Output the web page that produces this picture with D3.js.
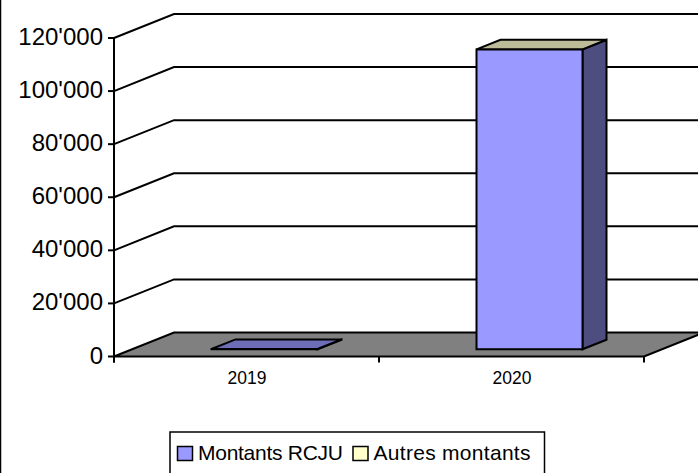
<!DOCTYPE html>
<html>
<head>
<meta charset="utf-8">
<script src="https://cdn.jsdelivr.net/npm/d3@7"></script>
<style>
    html, body { margin: 0; padding: 0; background: #fff; }
    svg { display: block; }
    text { font-family: "Liberation Sans", Arial, sans-serif; fill: #000; }
</style>
</head>
<body>
<div id="chart"></div>
<script>
// Chart values
const categories = ["2019", "2020"];
const montantsRCJU = [100, 113000];
const yTicks = [0, 20000, 40000, 60000, 80000, 100000, 120000];
const legendLabels = ["Montants RCJU", "Autres montants"];
const legendColors = ["#9999ff", "#ffffcc"];

const width = 698, height = 473;

const svg = d3.select("#chart")
    .append("svg")
    .attr("width", width)
    .attr("height", height);

// Left edge of the chart frame
svg.append("line")
    .attr("x1", 0.5).attr("x2", 0.5)
    .attr("y1", 0).attr("y2", height)
    .attr("stroke", "#000")
    .attr("stroke-width", 1.5);

// Scales: x along the front edge, y for values, depth for the oblique 3D offset
const x = d3.scaleBand()
    .domain(categories)
    .range([114, 644])
    .paddingInner(0.6)
    .paddingOuter(0.3);

const y = d3.scaleLinear()
    .domain([0, 120000])
    .range([356.5, 38]);

const depthX = d3.scaleLinear().domain([0, 1]).range([0, 60]);
const depthY = d3.scaleLinear().domain([0, 1]).range([0, -24]);

// Project a point (front x, value, depth 0-1) to the screen
const pt = (px, value, z) => [px + depthX(z), y(value) + depthY(z)];
const poly = pts => "M" + pts.map(p => p.join(",")).join("L") + "Z";

function addPath(d, fill) {
    return svg.append("path")
        .attr("d", d)
        .attr("fill", fill)
        .attr("stroke", "#000")
        .attr("stroke-width", 2)
        .attr("stroke-linejoin", "miter");
}

const x0 = x.range()[0], x1 = x.range()[1];

// Gridlines on side wall and back wall
yTicks.filter(d => d > 0).forEach(d => {
    addPath(d3.line()([pt(x0, d, 0), pt(x0, d, 1), pt(x1, d, 1)]), "none");
});

// Floor
addPath(poly([pt(x0, 0, 0), pt(x0, 0, 1), pt(x1, 0, 1), pt(x1, 0, 0)]), "#808080");

// Y axis with ticks and labels
svg.append("line")
    .attr("x1", x0).attr("x2", x0)
    .attr("y1", y(0) + 6).attr("y2", y(120000))
    .attr("stroke", "#000").attr("stroke-width", 2);

yTicks.forEach(d => {
    svg.append("line")
        .attr("x1", x0 - 6).attr("x2", x0)
        .attr("y1", y(d)).attr("y2", y(d))
        .attr("stroke", "#000").attr("stroke-width", 2);
    svg.append("text")
        .attr("x", x0 - 11)
        .attr("y", y(d) + 7)
        .attr("text-anchor", "end")
        .attr("font-size", 24)
        .text(d === 0 ? "0" : d3.format(",")(d).replace(",", "'"));
});

// X axis ticks and labels
[x0, (x0 + x1) / 2, x1].forEach(d => {
    svg.append("line")
        .attr("x1", d).attr("x2", d)
        .attr("y1", y(0)).attr("y2", y(0) + 6)
        .attr("stroke", "#000").attr("stroke-width", 2);
});
categories.forEach(c => {
    svg.append("text")
        .attr("x", x(c) + x.bandwidth() / 2 + 0.5)
        .attr("y", 383.5)
        .attr("text-anchor", "middle")
        .attr("font-size", 17.5)
        .text(c);
});

// Bars: top, side, front
const zFront = 0.3, zBack = 0.7;
categories.forEach((c, i) => {
    const l = x(c), r = x(c) + x.bandwidth(), v = montantsRCJU[i];
    addPath(poly([pt(r, 0, zFront), pt(r, 0, zBack), pt(r, v, zBack), pt(r, v, zFront)]), "#4d4d80");
    addPath(poly([pt(l, v, zFront), pt(l, v, zBack), pt(r, v, zBack), pt(r, v, zFront)]),
        i === 0 ? "#6d6db8" : "#bcbc99");
    addPath(poly([pt(l, 0, zFront), pt(r, 0, zFront), pt(r, v, zFront), pt(l, v, zFront)]), "#9999ff");
});

// Legend
const legend = svg.append("g");
legend.append("rect")
    .attr("x", 170).attr("y", 432)
    .attr("width", 374.5).attr("height", 44)
    .attr("fill", "#fff")
    .attr("stroke", "#000")
    .attr("stroke-width", 1.5);

const legendX = [177.5, 353];
const legendTextWidth = [145, 157];
legendLabels.forEach((d, i) => {
    legend.append("rect")
        .attr("x", legendX[i]).attr("y", 446.5)
        .attr("width", 15).attr("height", 14)
        .attr("fill", legendColors[i])
        .attr("stroke", "#000")
        .attr("stroke-width", 1.5);
    legend.append("text")
        .attr("x", legendX[i] + 20.5)
        .attr("y", 459.5)
        .attr("font-size", 21)
        .attr("textLength", legendTextWidth[i])
        .text(d);
});
</script>
</body>
</html>
